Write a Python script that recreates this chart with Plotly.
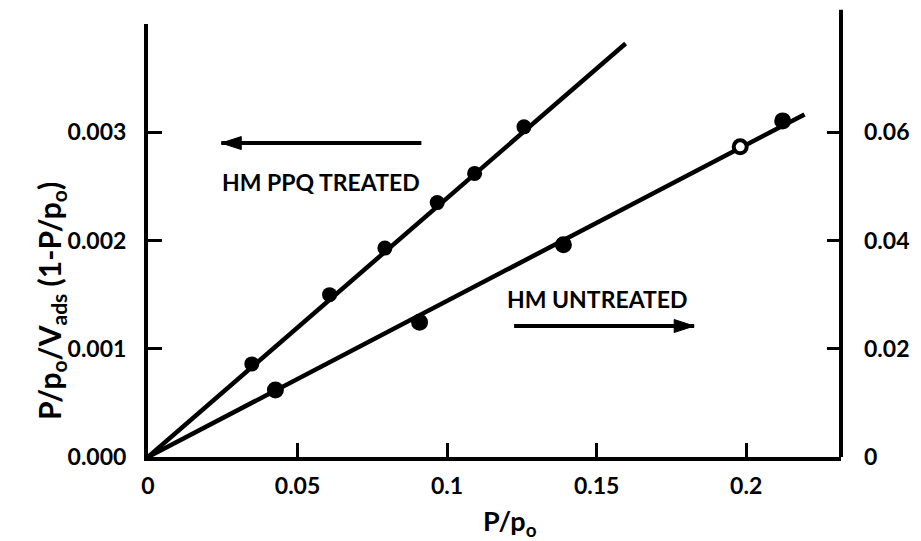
import plotly.graph_objects as go

# ---- data ----
x_ticks = [0, 0.05, 0.1, 0.15, 0.2]
x_tick_text = ["0", "0.05", "0.1", "0.15", "0.2"]
left_ticks = [0, 0.001, 0.002, 0.003]
left_tick_text = ["0.000", "0.001", "0.002", "0.003"]
right_ticks = [0, 0.02, 0.04, 0.06]
right_tick_text = ["0", "0.02", "0.04", "0.06"]

treated_x = [0.0347, 0.0607, 0.0792, 0.0967, 0.1092, 0.1257]
treated_y = [0.00086, 0.00150, 0.00193, 0.00235, 0.00262, 0.00305]
treated_fit_x = [0.0, 0.1597]
treated_fit_y = [0.0, 0.00382]

untreated_x = [0.0426, 0.0908, 0.1389, 0.1980, 0.2122]
untreated_y = [0.0124, 0.0249, 0.0392, 0.0573, 0.0621]
untreated_fit_x = [0.0, 0.2195]
untreated_fit_y = [0.0, 0.0633]

# arrows pointing to the axis each series uses
treated_arrow_x = [0.0914, 0.0245]
treated_arrow_y = [0.0029, 0.0029]
untreated_arrow_x = [0.1224, 0.1826]
untreated_arrow_y = [0.00121, 0.00121]

FONT = "Lato"
INK = "black"

fig = go.Figure()
fig.add_trace(go.Scatter(x=treated_fit_x, y=treated_fit_y, mode="lines",
                         line=dict(color=INK, width=4.5), hoverinfo="skip"))
fig.add_trace(go.Scatter(x=treated_x, y=treated_y, mode="markers",
                         marker=dict(color=INK, size=15, line=dict(width=0))))
fig.add_trace(go.Scatter(x=untreated_fit_x, y=untreated_fit_y, mode="lines", yaxis="y2",
                         line=dict(color=INK, width=4.5), hoverinfo="skip"))
fill = [INK] * len(untreated_x)
fill[3] = "white"
fig.add_trace(go.Scatter(x=untreated_x, y=untreated_y, mode="markers", yaxis="y2",
                         marker=dict(color=fill, size=13, line=dict(color=INK, width=4))))

for ax_, ay_ in ((treated_arrow_x, treated_arrow_y), (untreated_arrow_x, untreated_arrow_y)):
    fig.add_trace(go.Scatter(x=ax_, y=ay_, mode="lines", hoverinfo="skip",
                             line=dict(color=INK, width=4)))
    fig.add_trace(go.Scatter(x=ax_, y=ay_, mode="markers", hoverinfo="skip",
                             marker=dict(symbol="arrow", angleref="previous",
                                         size=[0, 21], color=INK, opacity=1,
                                         line=dict(color=INK, width=1))))

tickfont = dict(family=FONT, size=23, color=INK, weight="bold")

fig.update_layout(
    width=921, height=541,
    margin=dict(l=148, r=71, t=24, b=84),
    paper_bgcolor="white", plot_bgcolor="white",
    showlegend=False,
    xaxis=dict(range=[0, 0.2317], tickvals=x_ticks, ticktext=x_tick_text,
               ticks="inside", ticklen=14, tickwidth=3, tickcolor=INK,
               showline=True, linewidth=4, linecolor=INK, showgrid=False,
               zeroline=False, tickfont=tickfont, ticklabelstandoff=5),
    yaxis=dict(range=[0, 0.004], tickvals=left_ticks, ticktext=left_tick_text,
               ticks="inside", ticklen=14, tickwidth=3, tickcolor=INK,
               showline=True, linewidth=4, linecolor=INK, showgrid=False,
               zeroline=False, tickfont=tickfont, ticklabelstandoff=13),
    yaxis2=dict(range=[0, 0.08], tickvals=right_ticks, ticktext=right_tick_text,
                overlaying="y", side="right",
                ticks="inside", ticklen=14, tickwidth=3, tickcolor=INK,
                showline=False, showgrid=False, zeroline=False,
                tickfont=tickfont, ticklabelstandoff=22),
)

# right axis line, extending a little above the plot
fig.add_shape(type="line", xref="paper", yref="paper", x0=1, x1=1, y0=0, y1=1.033,
              line=dict(color=INK, width=4))

afont = dict(family=FONT, size=23, color=INK, weight="bold")
fig.add_annotation(x=0.0578, y=0.00254, text="HM PPQ TREATED", showarrow=False, font=afont)
fig.add_annotation(x=0.1502, y=0.00146, text="HM UNTREATED", showarrow=False, font=afont)

# axis titles
fig.add_annotation(xref="paper", yref="paper", x=-0.172, y=0.36, textangle=-90,
                   text="P/p<sub>o</sub>/V<sub>ads</sub> (1-P/p<sub>o</sub>)",
                   showarrow=False, font=dict(family=FONT, size=30, color=INK, weight="bold"))
fig.add_annotation(xref="paper", yref="paper", x=0.523, y=-0.105, yanchor="top",
                   text="P/p<sub>o</sub>", showarrow=False,
                   font=dict(family=FONT, size=27, color=INK, weight="bold"))

fig.write_html("out.html")
